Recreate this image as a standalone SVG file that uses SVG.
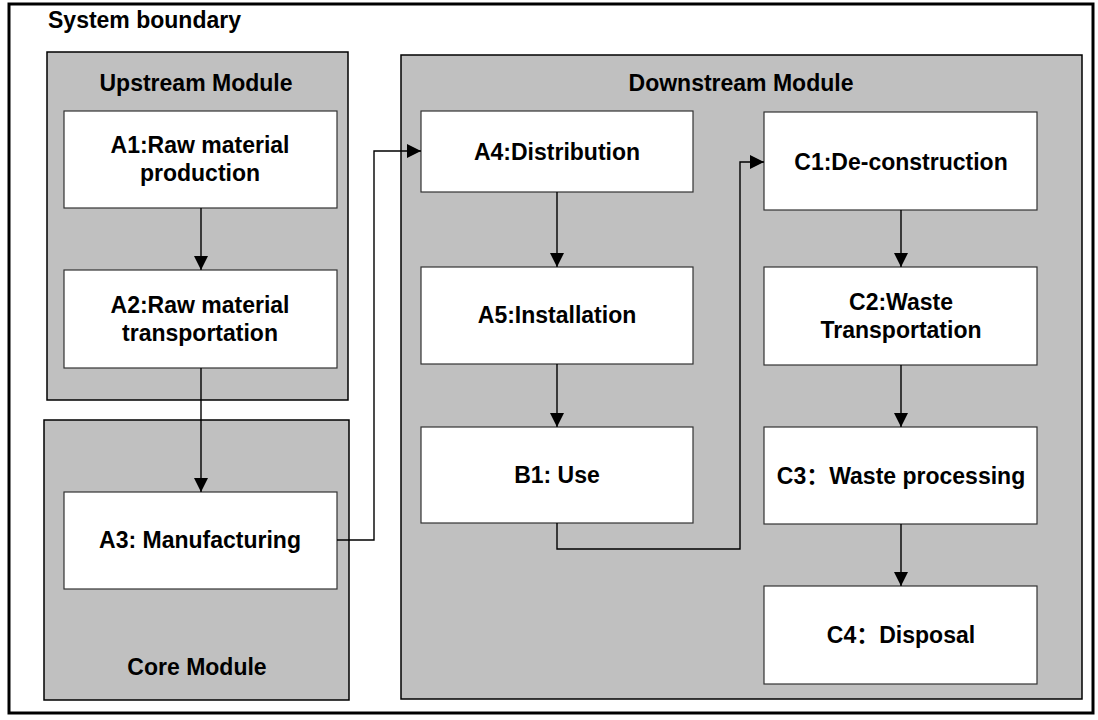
<svg xmlns="http://www.w3.org/2000/svg" width="1098" height="720" viewBox="0 0 1098 720">
<style>
.bg{fill:#ffffff}
.outer{fill:#ffffff;stroke:#000;stroke-width:3}
.mod{fill:#c0c0c0;stroke:#000;stroke-width:1.5}
.box{fill:#ffffff;stroke:#333;stroke-width:1.2}
text{font-family:"Liberation Sans","Noto Sans CJK SC",Arial,sans-serif;font-weight:bold;font-size:23px;fill:#000;text-anchor:middle}
.conn{fill:none;stroke:#000;stroke-width:1.4}
</style>
<defs>
<marker id="arr" markerUnits="userSpaceOnUse" markerWidth="14" markerHeight="14" refX="14" refY="7" orient="auto">
<polygon points="0,0 14,7 0,14" fill="#000"/>
</marker>
</defs>
<rect class="bg" x="0" y="0" width="1098" height="720"/>
<g id="system-boundary">
<rect class="outer" x="9" y="4" width="1084" height="709"/>
<text x="48" y="28" style="text-anchor:start">System boundary</text>
</g>
<g id="upstream-module">
<rect class="mod" x="47" y="52" width="301" height="348"/>
<text x="196" y="91">Upstream Module</text>
</g>
<g id="core-module">
<rect class="mod" x="44" y="420" width="305" height="280"/>
<text x="197" y="675">Core Module</text>
</g>
<g id="downstream-module">
<rect class="mod" x="401" y="55" width="681" height="644"/>
<text x="741" y="91">Downstream Module</text>
</g>
<g id="A1">
<rect class="box" x="64" y="111" width="273" height="97"/>
<text x="200" y="153">A1:Raw material</text>
<text x="200" y="181">production</text>
</g>
<g id="A2">
<rect class="box" x="64" y="270" width="273" height="98"/>
<text x="200" y="313">A2:Raw material</text>
<text x="200" y="341">transportation</text>
</g>
<g id="A3">
<rect class="box" x="64" y="492" width="273" height="97"/>
<text x="200" y="548">A3: Manufacturing</text>
</g>
<g id="A4">
<rect class="box" x="421" y="111" width="272" height="81"/>
<text x="557" y="160">A4:Distribution</text>
</g>
<g id="A5">
<rect class="box" x="421" y="267" width="272" height="97"/>
<text x="557" y="323">A5:Installation</text>
</g>
<g id="B1">
<rect class="box" x="421" y="427" width="272" height="96"/>
<text x="557" y="483">B1: Use</text>
</g>
<g id="C1">
<rect class="box" x="764" y="112" width="273" height="98"/>
<text x="901" y="170">C1:De-construction</text>
</g>
<g id="C2">
<rect class="box" x="764" y="267" width="273" height="98"/>
<text x="901" y="310">C2:Waste</text>
<text x="901" y="338">Transportation</text>
</g>
<g id="C3">
<rect class="box" x="764" y="427" width="273" height="97"/>
<text x="901" y="484">C3：Waste processing</text>
</g>
<g id="C4">
<rect class="box" x="764" y="586" width="273" height="98"/>
<text x="901" y="643">C4：Disposal</text>
</g>
<g id="connectors">
<path class="conn" d="M201,208 V270" marker-end="url(#arr)"/>
<path class="conn" d="M201,368 V492" marker-end="url(#arr)"/>
<path class="conn" d="M337,540 H374 V151 H421" marker-end="url(#arr)"/>
<path class="conn" d="M557,192 V267" marker-end="url(#arr)"/>
<path class="conn" d="M557,364 V427" marker-end="url(#arr)"/>
<path class="conn" d="M557,523 V549 H740 V162 H764" marker-end="url(#arr)"/>
<path class="conn" d="M901,210 V267" marker-end="url(#arr)"/>
<path class="conn" d="M901,365 V427" marker-end="url(#arr)"/>
<path class="conn" d="M901,524 V586" marker-end="url(#arr)"/>
</g>
</svg>
